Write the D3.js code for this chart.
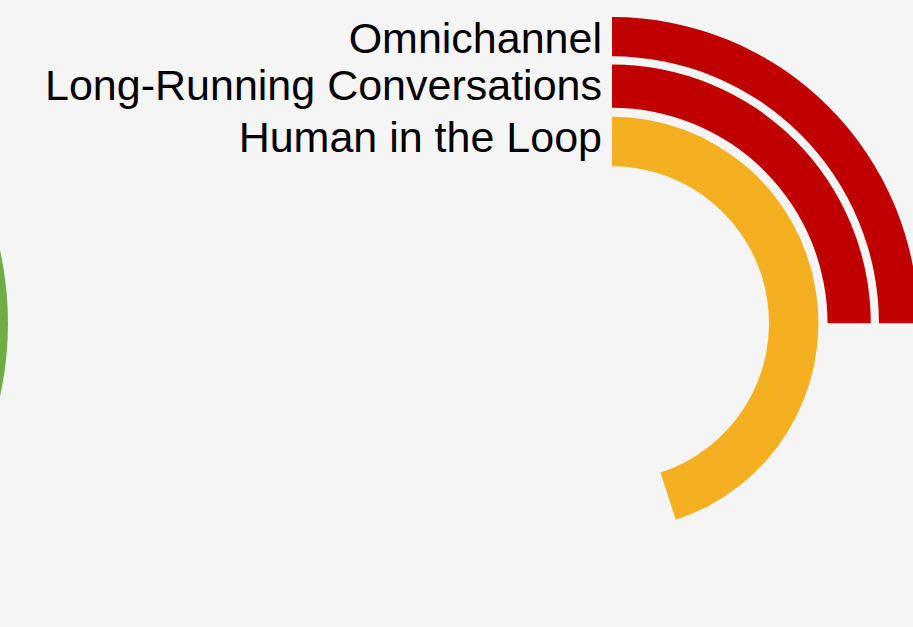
<!DOCTYPE html>
<html>
<head>
<meta charset="utf-8">
<script src="https://cdn.jsdelivr.net/npm/d3@7"></script>
<style>
  html, body { margin: 0; padding: 0; background: #f5f5f5; overflow: hidden; }
  svg { display: block; }
</style>
</head>
<body>
<svg id="chart"></svg>
<script>
// data, inner ring first
const categories = ["Human in the Loop", "Long-Running Conversations", "Omnichannel"];
const values = [45, 25, 25];
const maxValue = 100;
const ringColors = ["#f5b021", "#c00000", "#c00000"];

// neighbouring gauge, only its outer edge shows at the left border
const neighbourValues = [100];
const neighbourColors = ["#70ad47"];

(function() {
    const width = 913;
    const height = 627;
    const cx = 612, cy = 323.3;
    const innerR = 157, outerR = 306.3;

    const svg = d3.select("#chart")
        .attr("width", width)
        .attr("height", height);

    // band position (0..1) -> radius, rings get a bit thinner towards the outside
    const band = d3.scaleBand()
        .domain(categories)
        .range([0, 1])
        .paddingInner(0.165);
    const radius = d3.scalePow().exponent(1.5)
        .domain([innerR, outerR])
        .range([0, 1]);

    const angle = d3.scaleLinear()
        .domain([0, maxValue])
        .range([0, 2 * Math.PI]);

    const arc = d3.arc()
        .innerRadius(d => radius.invert(band(d.cat)))
        .outerRadius(d => radius.invert(band(d.cat) + band.bandwidth()))
        .startAngle(0)
        .endAngle(d => angle(d.value));

    const rows = categories.map((c, i) => ({ cat: c, value: values[i], color: ringColors[i] }));

    const g = svg.append("g").attr("transform", `translate(${cx},${cy})`);

    g.selectAll("path.ring")
        .data(rows)
        .join("path")
        .attr("class", "ring")
        .attr("d", arc)
        .attr("fill", d => d.color);

    g.selectAll("text.label")
        .data(rows)
        .join("text")
        .attr("class", "label")
        .attr("x", -10)
        .attr("y", d => -radius.invert(band(d.cat) + band.bandwidth()) + 35.5)
        .attr("text-anchor", "end")
        .attr("font-family", "'Liberation Sans', Arial, Helvetica, sans-serif")
        .attr("font-size", "43px")
        .attr("fill", "#000")
        .text(d => d.cat);

    // --- NEIGHBOUR ---
    const neighbourArc = d3.arc()
        .innerRadius(300)
        .outerRadius(339.8)
        .startAngle(0)
        .endAngle(d => angle(d));

    svg.append("g")
        .attr("transform", `translate(${8 - 339.8},${cy})`)
        .selectAll("path")
        .data(neighbourValues)
        .join("path")
        .attr("d", neighbourArc)
        .attr("fill", (d, i) => neighbourColors[i]);
})();
</script>
</body>
</html>
